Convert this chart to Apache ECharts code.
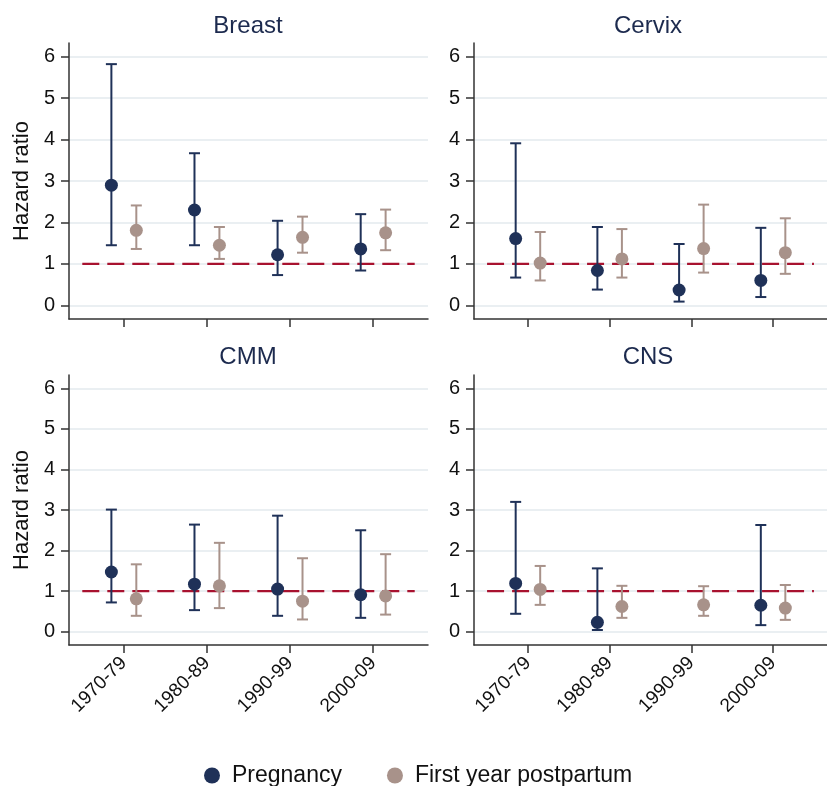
<!DOCTYPE html>
<html>
<head>
<meta charset="utf-8">
<script src="https://cdn.jsdelivr.net/npm/echarts@6/dist/echarts.min.js"></script>
<style>
html,body{margin:0;padding:0;background:#fff;}
#chart{width:827px;height:786px;}
</style>
</head>
<body>
<div id="chart"></div>
<script>
// ---- Data ----
const periods = ['1970-79', '1980-89', '1990-99', '2000-09'];
const panelTitles = ['Breast', 'Cervix', 'CMM', 'CNS'];
const yTicks = [0, 1, 2, 3, 4, 5, 6];

// Pregnancy / first year postpartum: estimate, lower CI, upper CI per period
const breastPregEst = [2.90, 2.30, 1.22, 1.36];
const breastPregLo  = [1.45, 1.45, 0.73, 0.84];
const breastPregHi  = [5.82, 3.67, 2.04, 2.20];
const breastPostEst = [1.81, 1.45, 1.64, 1.75];
const breastPostLo  = [1.36, 1.12, 1.27, 1.33];
const breastPostHi  = [2.41, 1.89, 2.14, 2.31];

const cervixPregEst = [1.61, 0.84, 0.37, 0.60];
const cervixPregLo  = [0.67, 0.38, 0.09, 0.20];
const cervixPregHi  = [3.91, 1.89, 1.48, 1.87];
const cervixPostEst = [1.02, 1.12, 1.37, 1.27];
const cervixPostLo  = [0.60, 0.67, 0.79, 0.76];
const cervixPostHi  = [1.77, 1.84, 2.43, 2.10];

const cmmPregEst = [1.47, 1.17, 1.05, 0.91];
const cmmPregLo  = [0.72, 0.53, 0.39, 0.34];
const cmmPregHi  = [3.01, 2.64, 2.86, 2.50];
const cmmPostEst = [0.81, 1.13, 0.75, 0.88];
const cmmPostLo  = [0.39, 0.58, 0.30, 0.42];
const cmmPostHi  = [1.66, 2.19, 1.81, 1.91];

const cnsPregEst = [1.19, 0.23, null, 0.65];
const cnsPregLo  = [0.44, 0.04, null, 0.16];
const cnsPregHi  = [3.20, 1.56, null, 2.63];
const cnsPostEst = [1.04, 0.62, 0.66, 0.58];
const cnsPostLo  = [0.66, 0.34, 0.39, 0.29];
const cnsPostHi  = [1.62, 1.13, 1.12, 1.15];

const referenceHR = 1;

// ---- Styling / layout ----
const PREG = '#1f3158';
const POST = '#a8928a';
const RED = '#a8122f';
const TXT = '#111111';
const TITLE = '#1c2a4e';
const FONT = '"Liberation Sans", Arial, sans-serif';

const panels = [
  {preg: [breastPregEst, breastPregLo, breastPregHi], post: [breastPostEst, breastPostLo, breastPostHi]},
  {preg: [cervixPregEst, cervixPregLo, cervixPregHi], post: [cervixPostEst, cervixPostLo, cervixPostHi]},
  {preg: [cmmPregEst, cmmPregLo, cmmPregHi], post: [cmmPostEst, cmmPostLo, cmmPostHi]},
  {preg: [cnsPregEst, cnsPregLo, cnsPregHi], post: [cnsPostEst, cnsPostLo, cnsPostHi]}
];

const grids = [
  {left: 69, top: 43, width: 359, height: 276},
  {left: 474, top: 43, width: 366, height: 276},
  {left: 69, top: 375, width: 359, height: 270},
  {left: 474, top: 375, width: 366, height: 270}
];
const titlePos = [[243, 9], [643, 9], [243, 340], [643, 340]];
const catPos = periods.map((p, i) => i + 1);
const OFF = 0.15;

const xAxes = [], yAxes = [], series = [], titles = [];
grids.forEach((g, k) => {
  const bottomRow = k >= 2;
  xAxes.push({
    type: 'value', gridIndex: k, min: 0.34, max: 4.66,
    axisLine: {show: true, onZero: false, lineStyle: {color: '#333', width: 1.5}},
    axisTick: {show: true, length: 8, customValues: catPos, lineStyle: {color: '#333', width: 1.5}},
    axisLabel: {show: bottomRow, customValues: catPos, rotate: 45, fontSize: 19, color: TXT, fontFamily: FONT, margin: 15,
      formatter: v => periods[Math.round(v) - 1] || ''},
    splitLine: {show: false}
  });
  yAxes.push({
    type: 'value', gridIndex: k, min: -0.33, max: 6.33,
    name: (k % 2 === 0) ? 'Hazard ratio' : '',
    nameLocation: 'middle', nameGap: 36, nameRotate: 90,
    nameTextStyle: {fontSize: 22, color: TXT, fontFamily: FONT},
    axisLine: {show: true, lineStyle: {color: '#333', width: 1.5}},
    axisTick: {show: true, length: 8, customValues: yTicks, lineStyle: {color: '#333', width: 1.5}},
    axisLabel: {customValues: yTicks, fontSize: 20, color: TXT, fontFamily: FONT, margin: 14},
    splitLine: {show: true, customValues: yTicks, lineStyle: {color: '#e3eaee', width: 1.5}}
  });
  titles.push({
    text: panelTitles[k], left: titlePos[k][0], top: titlePos[k][1], textAlign: 'center',
    textStyle: {fontSize: 24, fontWeight: 'normal', color: TITLE, fontFamily: FONT}
  });
  // reference line at HR = 1
  series.push({
    type: 'line', xAxisIndex: k, yAxisIndex: k, data: [[0.5, referenceHR], [4.5, referenceHR]],
    symbol: 'none', silent: true, z: 1,
    lineStyle: {color: RED, width: 2.2, type: [17, 8]}
  });
  const groups = [
    {name: 'Pregnancy', arr: panels[k].preg, color: PREG, dx: -OFF},
    {name: 'First year postpartum', arr: panels[k].post, color: POST, dx: OFF}
  ];
  groups.forEach(gr => {
    const [est, lo, hi] = gr.arr;
    const ciData = [], ptData = [];
    catPos.forEach((c, i) => {
      if (est[i] == null) return;
      ciData.push([c + gr.dx, lo[i], hi[i]]);
      ptData.push([c + gr.dx, est[i]]);
    });
    series.push({
      type: 'custom', xAxisIndex: k, yAxisIndex: k, z: 3, silent: true,
      data: ciData,
      encode: {x: 0, y: [1, 2]},
      renderItem: (params, api) => {
        const x = api.value(0);
        const pLo = api.coord([x, api.value(1)]);
        const pHi = api.coord([x, api.value(2)]);
        const hw = 5.5;
        const st = {stroke: gr.color, lineWidth: 2};
        return {type: 'group', children: [
          {type: 'line', shape: {x1: pLo[0], y1: pLo[1], x2: pHi[0], y2: pHi[1]}, style: st},
          {type: 'line', shape: {x1: pLo[0] - hw, y1: pLo[1], x2: pLo[0] + hw, y2: pLo[1]}, style: st},
          {type: 'line', shape: {x1: pHi[0] - hw, y1: pHi[1], x2: pHi[0] + hw, y2: pHi[1]}, style: st}
        ]};
      }
    });
    series.push({
      type: 'scatter', name: gr.name, xAxisIndex: k, yAxisIndex: k, z: 4,
      data: ptData, symbol: 'circle', symbolSize: 13,
      itemStyle: {color: gr.color, opacity: 1}
    });
  });
});

const chart = echarts.init(document.getElementById('chart'), null, {renderer: 'canvas'});
chart.setOption({
  animation: false,
  backgroundColor: '#ffffff',
  title: titles,
  grid: grids,
  xAxis: xAxes,
  yAxis: yAxes,
  legend: {
    data: ['Pregnancy', 'First year postpartum'],
    left: 199, top: 759, itemGap: 45, itemWidth: 16, itemHeight: 16, icon: 'circle',
    textStyle: {fontSize: 23, color: TXT, fontFamily: FONT, padding: [0, 0, 0, 7]}
  },
  series: series
});
</script>
</body>
</html>
